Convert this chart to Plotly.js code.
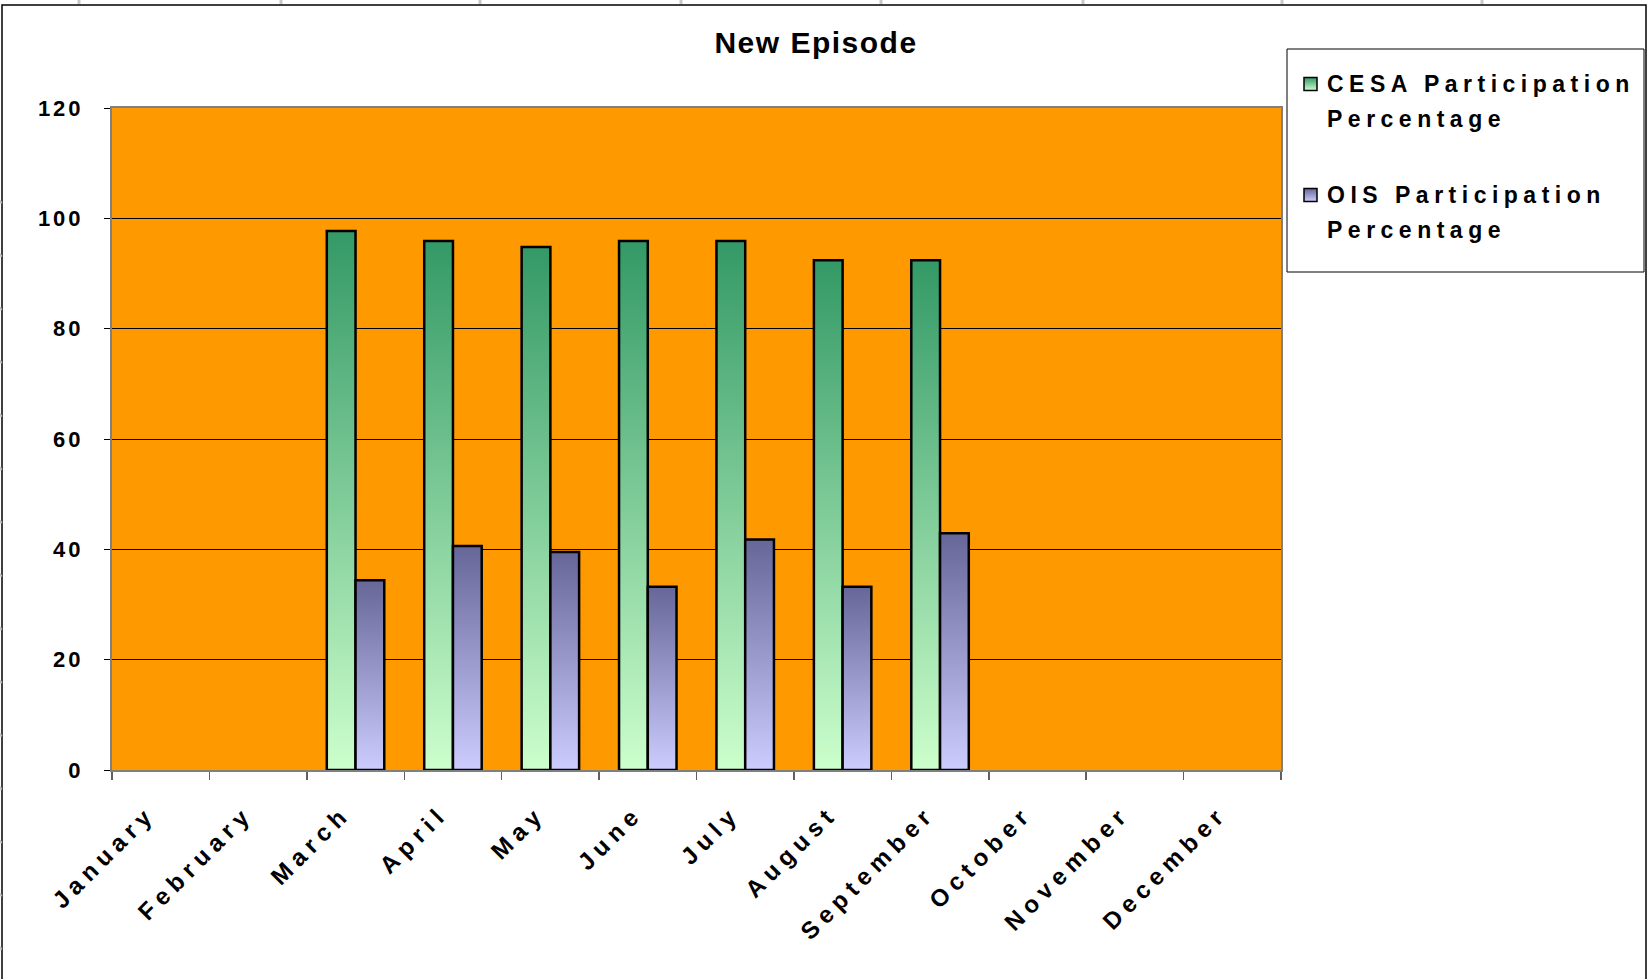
<!DOCTYPE html>
<html>
<head>
<meta charset="utf-8">
<script src="https://cdn.plot.ly/plotly-3.0.1.min.js"></script>
<style>
  html, body { margin: 0; padding: 0; background: #ffffff; }
  #chart { width: 1648px; height: 979px; }
  .annotation-text { letter-spacing: 5.5px; }
  .gtitle { letter-spacing: 1.5px; }
  .ytick text { letter-spacing: 3px; }
  .xtick text { letter-spacing: 6px; }
</style>
</head>
<body>
<div id="chart"></div>
<script>
// Monthly participation percentages
const months = ['January', 'February', 'March', 'April', 'May', 'June',
                'July', 'August', 'September', 'October', 'November', 'December'];
const cesaPct = [null, null, 97.7, 95.9, 94.8, 95.9, 95.9, 92.4, 92.4, null, null, null];
const oisPct  = [null, null, 34.4, 40.6, 39.5, 33.2, 41.8, 33.2, 42.9, null, null, null];
const seriesNames = ['CESA Participation Percentage', 'OIS Participation Percentage'];
const chartTitle = 'New Episode';
const yTicks = [0, 20, 40, 60, 80, 100, 120];

// Vertical gradients (top colour -> bottom colour) for each series
const gradients = [
  { id: 'gradCesa', top: '#339966', bottom: '#CCFFCC' },
  { id: 'gradOis',  top: '#666699', bottom: '#CCCCFF' }
];

const W = 1648, H = 979;
const M = { l: 112, r: 367, t: 108, b: 209 };
const PW = W - M.l - M.r, PH = H - M.t - M.b;
const px2x = px => (px - M.l) / PW;
const py2y = py => (H - M.b - py) / PH;

const FONT = 'Liberation Sans, Arial, Helvetica, sans-serif';

const traces = [
  {
    type: 'bar', name: seriesNames[0], x: months, y: cesaPct,
    marker: { color: '#8FCC99', line: { color: '#000000', width: 2.5 } },
    hoverinfo: 'x+y'
  },
  {
    type: 'bar', name: seriesNames[1], x: months, y: oisPct,
    marker: { color: '#9999CC', line: { color: '#000000', width: 2.5 } },
    hoverinfo: 'x+y'
  }
];

// Legend drawn as a framed box with swatches and two-line labels
const legendBox = { x0: 1287, x1: 1644, y0: 49, y1: 272 };
const legendRows = [
  { lines: [84, 119] },
  { lines: [195, 230] }
];
const legendFont = 23;
const swatchSize = 13;

const shapes = [
  // outer chart frame
  { type: 'rect', xref: 'paper', yref: 'paper',
    x0: px2x(2), x1: px2x(1646), y0: py2y(5), y1: py2y(1000),
    line: { color: '#000000', width: 1.5 }, fillcolor: 'rgba(0,0,0,0)' },
  // legend frame
  { type: 'rect', xref: 'paper', yref: 'paper',
    x0: px2x(legendBox.x0), x1: px2x(legendBox.x1), y0: py2y(legendBox.y0), y1: py2y(legendBox.y1),
    line: { color: '#000000', width: 1 }, fillcolor: '#ffffff' }
];
const swatchIndex = [];
legendRows.forEach((row, i) => {
  const cy = row.lines[0];
  swatchIndex.push(shapes.length);
  shapes.push({ type: 'rect', xref: 'paper', yref: 'paper',
    x0: px2x(1304), x1: px2x(1304 + swatchSize),
    y0: py2y(cy - swatchSize / 2), y1: py2y(cy + swatchSize / 2),
    line: { color: '#000000', width: 1.5 }, fillcolor: gradients[i].bottom });
});
// faint sheet grid marks around the chart frame
[79, 281, 480, 681, 881, 1083, 1282, 1482].forEach(px => {
  shapes.push({ type: 'line', xref: 'paper', yref: 'paper',
    x0: px2x(px), x1: px2x(px), y0: py2y(0), y1: py2y(4),
    line: { color: '#c8c8c8', width: 3 } });
});
for (let py = 200.5; py < H; py += 53.3) {
  shapes.push({ type: 'line', xref: 'paper', yref: 'paper',
    x0: px2x(0), x1: px2x(1.5), y0: py2y(py), y1: py2y(py + 3),
    line: { color: '#c0c0c0', width: 2 } });
}

const annotations = [];
legendRows.forEach((row, i) => {
  const name = seriesNames[i];
  const cut = name.lastIndexOf(' ');
  const parts = [name.slice(0, cut), name.slice(cut + 1)];
  parts.forEach((txt, k) => {
    annotations.push({
      text: txt, xref: 'paper', yref: 'paper', showarrow: false,
      x: px2x(1325), xanchor: 'left',
      y: py2y(row.lines[k]), yanchor: 'middle',
      align: 'left',
      font: { family: FONT, size: legendFont, color: '#000000', weight: 'bold' }
    });
  });
});

const layout = {
  width: W, height: H,
  margin: M,
  paper_bgcolor: '#ffffff',
  plot_bgcolor: '#FF9900',
  showlegend: false,
  barmode: 'group',
  bargap: 0.41,
  bargroupgap: 0,
  title: {
    text: chartTitle,
    x: 816 / W, xanchor: 'center', xref: 'container',
    y: 1 - 42 / H, yanchor: 'middle', yref: 'container',
    font: { family: FONT, size: 30, color: '#000000', weight: 'bold' }
  },
  xaxis: {
    type: 'category',
    categoryorder: 'array', categoryarray: months,
    range: [-0.5, months.length - 0.5],
    automargin: false,
    showline: true, linecolor: '#808080', linewidth: 2, mirror: true,
    ticks: 'outside', ticklen: 8, tickwidth: 1.5, tickcolor: '#606060',
    tickson: 'boundaries',
    tickangle: -45,
    ticklabelstandoff: 18,
    ticklabelshift: -12,
    showgrid: false, zeroline: false,
    tickfont: { family: FONT, size: 24, color: '#000000', weight: 'bold' }
  },
  yaxis: {
    range: [0, 120],
    automargin: false,
    tickmode: 'array', tickvals: yTicks, ticktext: yTicks.map(String),
    showline: true, linecolor: '#808080', linewidth: 2, mirror: true,
    ticks: 'outside', ticklen: 6, tickwidth: 1, tickcolor: '#000000',
    ticklabelstandoff: 16,
    showgrid: true, gridcolor: '#000000', gridwidth: 1,
    zeroline: false,
    tickfont: { family: FONT, size: 22, color: '#000000', weight: 'bold' }
  },
  shapes: shapes,
  annotations: annotations
};

function applyGradients(gd) {
  const NS = 'http://www.w3.org/2000/svg';
  const defs = gd.querySelector('.main-svg defs');
  gradients.forEach(g => {
    const lg = document.createElementNS(NS, 'linearGradient');
    lg.setAttribute('id', g.id);
    lg.setAttribute('x1', '0'); lg.setAttribute('y1', '0');
    lg.setAttribute('x2', '0'); lg.setAttribute('y2', '1');
    [[0, g.top], [1, g.bottom]].forEach(([off, col]) => {
      const s = document.createElementNS(NS, 'stop');
      s.setAttribute('offset', off);
      s.setAttribute('stop-color', col);
      lg.appendChild(s);
    });
    defs.appendChild(lg);
  });
  gd.querySelectorAll('.barlayer .trace').forEach((t, i) => {
    t.querySelectorAll('.point path').forEach(p => {
      p.style.fill = 'url(#' + gradients[i].id + ')';
    });
  });
  gd.querySelectorAll('.shapelayer path').forEach(p => {
    const idx = +p.getAttribute('data-index');
    const k = swatchIndex.indexOf(idx);
    if (k >= 0) p.style.fill = 'url(#' + gradients[k].id + ')';
  });
}

Plotly.newPlot('chart', traces, layout, { displayModeBar: false, staticPlot: true })
  .then(applyGradients);
</script>
</body>
</html>
